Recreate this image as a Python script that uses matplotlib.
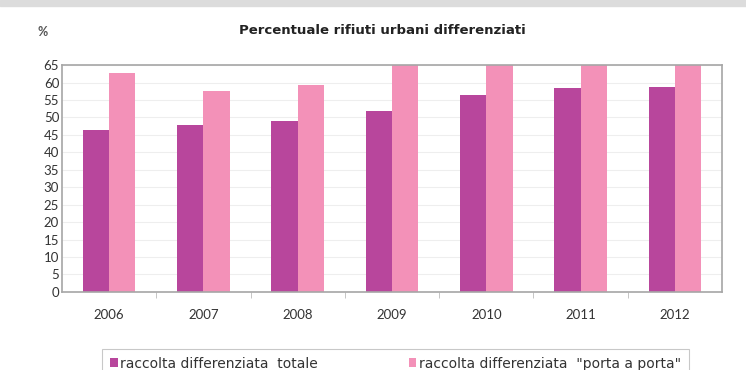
import matplotlib.pyplot as plt
import numpy as np
from matplotlib.patches import Rectangle

plt.rcParams['font.family'] = ['Lato', 'DejaVu Sans']

anni = ["2006", "2007", "2008", "2009", "2010", "2011", "2012"]
totale = [46.4, 47.8, 49.0, 51.9, 56.3, 58.4, 58.6]
porta_a_porta = [62.8, 57.7, 59.4, 66.0, 65.2, 66.0, 66.0]
yticks = list(range(0, 70, 5))

c_tot = "#b8469c"
c_pap = "#f391b8"

fig = plt.figure(figsize=(7.46, 3.70), dpi=100)
# grey shadow strip on the very top
fig.patches.append(Rectangle((0, 0.984), 1, 0.016, transform=fig.transFigure,
                             color="#dcdcdc", zorder=0))

ax = fig.add_axes([0.083, 0.211, 0.885, 0.613])
x = np.arange(len(anni))
w = 0.28
ax.bar(x - w / 2, totale, w, color=c_tot, label="raccolta differenziata  totale", zorder=2)
ax.bar(x + w / 2, porta_a_porta, w, color=c_pap, label='raccolta differenziata  "porta a porta"', zorder=2)

ax.set_xlim(-0.5, len(anni) - 0.5)
ax.set_ylim(0, 65)
ax.set_yticks(yticks)
ax.set_yticklabels([str(v) for v in yticks], fontsize=9.5, color="#333333")
ax.set_xticks(x)
ax.set_xticklabels(anni, fontsize=9.5, color="#333333")
ax.set_xticks(np.arange(0.5, len(anni) - 0.5, 1), minor=True)
ax.tick_params(axis="x", which="major", length=0, pad=12)
ax.tick_params(axis="x", which="minor", length=4, color="#bbbbbb")
ax.tick_params(axis="y", length=0, pad=2)
ax.grid(axis="y", color="#eeeeee", linewidth=0.8, zorder=0)
for s in ax.spines.values():
    s.set_color("#a6a6a6")
    s.set_linewidth(1.2)

fig.text(0.513, 0.918, "Percentuale rifiuti urbani differenziati", ha="center", va="center",
         fontsize=9.5, fontweight="bold", color="#222222", family="DejaVu Sans")
fig.text(0.057, 0.913, "%", ha="center", va="center", fontsize=9, fontweight="bold", color="#555555")

leg = fig.legend(loc="upper left", bbox_to_anchor=(0.128, (370 - 342) / 370),
                 bbox_transform=fig.transFigure, ncol=2, frameon=True,
                 prop={"family": "DejaVu Sans", "size": 10},
                 handlelength=0.55, handleheight=0.55, handletextpad=0.2,
                 columnspacing=6.5, borderpad=0.55, fancybox=False)
leg.get_frame().set_edgecolor("#bbbbbb")
leg.get_frame().set_linewidth(0.8)
for t in leg.get_texts():
    t.set_color("#333333")

fig.savefig("out.png", dpi=100)
